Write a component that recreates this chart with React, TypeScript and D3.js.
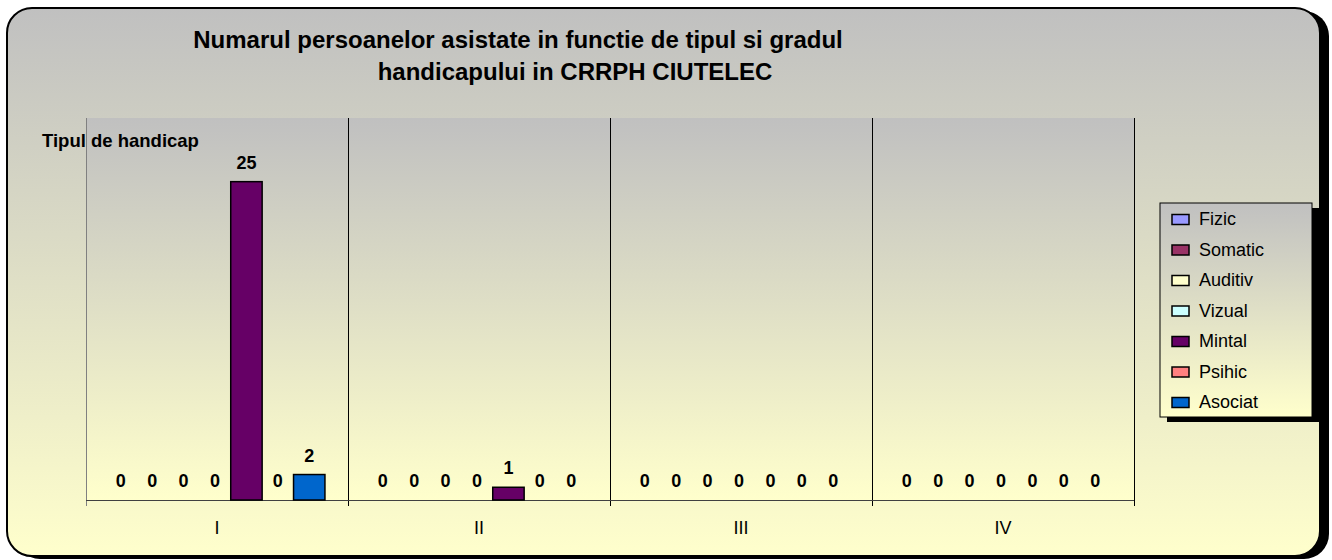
import React from "react";
import * as d3 from "d3";

const titleLines = [
  "Numarul persoanelor asistate in functie de tipul si gradul",
  "handicapului in CRRPH CIUTELEC",
];
const yAxisTitle = "Tipul de handicap";
const categories = ["I", "II", "III", "IV"];
const seriesNames = ["Fizic", "Somatic", "Auditiv", "Vizual", "Mintal", "Psihic", "Asociat"];
const seriesColors = ["#9999FF", "#993366", "#FFFFCC", "#CCFFFF", "#660066", "#FF8080", "#0066CC"];
const fizic = [0, 0, 0, 0];
const somatic = [0, 0, 0, 0];
const auditiv = [0, 0, 0, 0];
const vizual = [0, 0, 0, 0];
const mintal = [25, 1, 0, 0];
const psihic = [0, 0, 0, 0];
const asociat = [2, 0, 0, 0];
const seriesValues = [fizic, somatic, auditiv, vizual, mintal, psihic, asociat];

const W = 1332;
const H = 560;
const plot = { left: 86, right: 1134, top: 118, bottom: 500 };
const FONT = "Arial, 'Liberation Sans', sans-serif";

export default function App() {
  const x0 = d3.scaleBand<string>().domain(categories).range([plot.left, plot.right]).padding(0);
  const bw = x0.bandwidth();
  const x1 = d3
    .scaleBand<string>()
    .domain(seriesNames)
    .range([bw * 0.073, bw * 0.912])
    .padding(0);
  const y = d3.scaleLinear().domain([0, 30]).range([plot.bottom, plot.top]);

  const boundaries = categories.map((c) => x0(c)!).concat([plot.right]);

  return (
    <svg
      width={W}
      height={H}
      style={{ position: "absolute", left: 0, top: 0 }}
      fontFamily={FONT}
    >
      <defs>
        <linearGradient id="bgGrad" x1="0" y1="0" x2="0" y2="1">
          <stop offset="0" stopColor="#c0c0c0" />
          <stop offset="1" stopColor="#ffffcc" />
        </linearGradient>
        <linearGradient id="plotGrad" x1="0" y1="0" x2="0" y2="1">
          <stop offset="0" stopColor="#c0c0c0" />
          <stop offset="1" stopColor="#ffffcc" />
        </linearGradient>
        <linearGradient id="legGrad" x1="0" y1="0" x2="0" y2="1">
          <stop offset="0" stopColor="#c0c0c0" />
          <stop offset="1" stopColor="#ffffcc" />
        </linearGradient>
      </defs>
      <rect x={0} y={0} width={W} height={H} fill="#ffffff" />
      {/* frame shadow */}
      <rect x={15} y={11} width={1314} height={548} rx={25} ry={25} fill="#000" />
      {/* frame */}
      <rect x={7} y={8} width={1313} height={548} rx={25} ry={25} fill="url(#bgGrad)" stroke="#000" strokeWidth={2} />

      {/* title */}
      <text x={518} y={48} textAnchor="middle" fontSize={24} fontWeight="bold" fill="#000">
        {titleLines[0]}
      </text>
      <text x={575} y={80} textAnchor="middle" fontSize={24} fontWeight="bold" fill="#000">
        {titleLines[1]}
      </text>

      {/* plot area */}
      <rect
        x={plot.left}
        y={plot.top}
        width={plot.right - plot.left}
        height={plot.bottom - plot.top}
        fill="url(#plotGrad)"
      />
      {boundaries.map((bx, i) => (
        <line
          key={"g" + i}
          x1={bx + 0.5}
          x2={bx + 0.5}
          y1={plot.top}
          y2={plot.bottom + 6}
          stroke={i === 0 ? "#808080" : "#000"}
          strokeWidth={1}
        />
      ))}
      <line x1={plot.left} x2={plot.right} y1={plot.bottom + 0.5} y2={plot.bottom + 0.5} stroke="#404040" strokeWidth={1} />

      {/* y axis title */}
      <text x={42} y={147} fontSize={18.5} fontWeight="bold" fill="#000">
        {yAxisTitle}
      </text>

      {/* bars */}
      {categories.map((c, ci) =>
        seriesNames.map((s, si) => {
          const v = seriesValues[si][ci];
          const bx = x0(c)! + x1(s)!;
          const by = y(v);
          return (
            <g key={c + s}>
              {v > 0 && (
                <rect
                  x={bx}
                  y={by}
                  width={x1.bandwidth()}
                  height={plot.bottom - by}
                  fill={seriesColors[si]}
                  stroke="#000"
                  strokeWidth={1.5}
                />
              )}
              <text
                x={bx + x1.bandwidth() / 2}
                y={by - 13}
                textAnchor="middle"
                fontSize={18}
                fontWeight="bold"
                fill="#000"
              >
                {v}
              </text>
            </g>
          );
        })
      )}

      {/* category labels */}
      {categories.map((c) => (
        <text key={"c" + c} x={x0(c)! + bw / 2} y={534} textAnchor="middle" fontSize={18} fill="#000">
          {c}
        </text>
      ))}

      {/* legend */}
      <rect x={1167} y={208} width={152} height={214} fill="#000" />
      <rect x={1160} y={203} width={152} height={214} fill="url(#legGrad)" stroke="#000" strokeWidth={1} />
      {seriesNames.map((s, i) => {
        const base = 225 + i * 30.5;
        return (
          <g key={"l" + s}>
            <rect x={1172} y={base - 10.5} width={17} height={10} fill={seriesColors[i]} stroke="#000" strokeWidth={1.5} />
            <text x={1199} y={base} fontSize={18} fill="#000">
              {s}
            </text>
          </g>
        );
      })}
    </svg>
  );
}
